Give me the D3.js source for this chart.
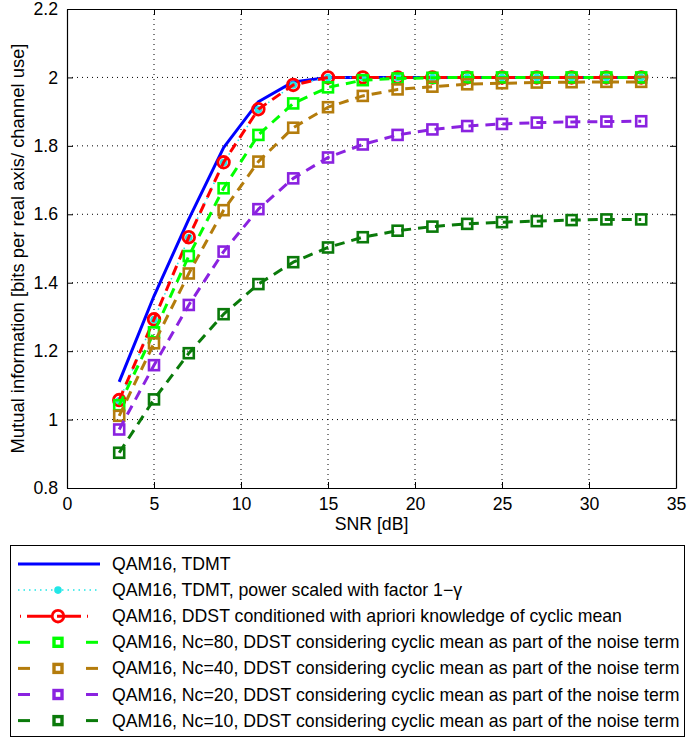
<!DOCTYPE html>
<html><head><meta charset="utf-8">
<script src="https://cdn.jsdelivr.net/npm/d3@7"></script>
<style>body{margin:0;background:#fff}svg{display:block}text{font-family:"Liberation Sans",Arial,sans-serif}</style>
</head><body><svg id="c" width="689" height="740"></svg>
<script>
const snr = [3,5,7,9,11,13,15,17,19,21,23,25,27,29,31,33];
const tdmt   = [1.110,1.361,1.586,1.795,1.929,1.987,2.0,2.0,2.0,2.0,2.0,2.0,2.0,2.0,2.0,2.0];
const tdmtPs = [1.055,1.292,1.532,1.751,1.906,1.978,2.0,2.0,2.0,2.0,2.0,2.0,2.0,2.0,2.0,2.0];
const ddstK  = [1.057,1.293,1.533,1.752,1.907,1.978,2.0,2.0,2.0,2.0,2.0,2.0,2.0,2.0,2.0,2.0];
const nc80   = [1.042,1.255,1.478,1.676,1.832,1.924,1.971,1.992,1.997,1.999,2.0,2.0,2.0,2.0,2.0,2.0];
const nc40   = [1.011,1.223,1.427,1.612,1.754,1.853,1.913,1.946,1.965,1.973,1.980,1.983,1.985,1.986,1.987,1.987];
const nc20   = [0.971,1.159,1.335,1.491,1.615,1.705,1.766,1.804,1.832,1.848,1.858,1.864,1.868,1.870,1.871,1.872];
const nc10   = [0.903,1.059,1.194,1.308,1.396,1.460,1.503,1.533,1.552,1.564,1.572,1.577,1.580,1.583,1.585,1.585];
const xTicks = [0,5,10,15,20,25,30,35];
const yTicks = [0.8,1,1.2,1.4,1.6,1.8,2,2.2];
const legendLabels = [
 "QAM16, TDMT",
 "QAM16, TDMT, power scaled with factor 1\u2212\u03B3",
 "QAM16, DDST conditioned with apriori knowledge of cyclic mean",
 "QAM16, Nc=80, DDST considering cyclic mean as part of the noise term",
 "QAM16, Nc=40, DDST considering cyclic mean as part of the noise term",
 "QAM16, Nc=20, DDST considering cyclic mean as part of the noise term",
 "QAM16, Nc=10, DDST considering cyclic mean as part of the noise term"];

const series = [
 {y:tdmt,   color:"#0000ff", w:3,   dash:null,   marker:"none"},
 {y:tdmtPs, color:"#22e6e6", w:1.5, dash:"1.5,4", marker:"dot"},
 {y:ddstK,  color:"#ff0000", w:3,   dash:"10,7", marker:"circle"},
 {y:nc80,   color:"#00ff00", w:3,   dash:"10,7", marker:"square"},
 {y:nc40,   color:"#b47c0c", w:3,   dash:"10,7", marker:"square"},
 {y:nc20,   color:"#8a22e0", w:3,   dash:"10,7", marker:"square"},
 {y:nc10,   color:"#0a7a0a", w:3,   dash:"10,7", marker:"square"}];

const svg = d3.select("#c");
const L=67,R=676,T=9,B=488;
const x = d3.scaleLinear().domain([0,35]).range([L,R]);
const y = d3.scaleLinear().domain([0.8,2.2]).range([B,T]);

// grid
const g = svg.append("g");
g.selectAll(".gx").data(xTicks.slice(1,-1)).join("line")
 .attr("x1",d=>x(d)).attr("x2",d=>x(d)).attr("y1",T).attr("y2",B)
 .attr("stroke","#000").attr("stroke-width",1).attr("stroke-dasharray","1,4");
g.selectAll(".gy").data(yTicks.slice(1,-1)).join("line")
 .attr("y1",d=>y(d)).attr("y2",d=>y(d)).attr("x1",L).attr("x2",R)
 .attr("stroke","#000").attr("stroke-width",1).attr("stroke-dasharray","1,4");

// axes
const fs = 17.7;
const ax = svg.append("g").attr("transform",`translate(0,${B})`)
 .call(d3.axisBottom(x).tickValues(xTicks).tickSizeInner(-6).tickSizeOuter(0).tickPadding(9).tickFormat(d3.format("d")));
const axT = svg.append("g").attr("transform",`translate(0,${T})`)
 .call(d3.axisTop(x).tickValues(xTicks).tickSizeInner(-6).tickSizeOuter(0).tickFormat(""));
const ay = svg.append("g").attr("transform",`translate(${L},0)`)
 .call(d3.axisLeft(y).tickValues(yTicks).tickSizeInner(-6).tickSizeOuter(0).tickPadding(9).tickFormat(d=>String(+d.toFixed(1))));
const ayR = svg.append("g").attr("transform",`translate(${R},0)`)
 .call(d3.axisRight(y).tickValues(yTicks).tickSizeInner(-6).tickSizeOuter(0).tickFormat(""));
[ax,axT,ay,ayR].forEach(a=>{a.select(".domain").attr("stroke","#000").attr("stroke-width",1.2);
 a.selectAll("line").attr("stroke","#000");
 a.selectAll("text").attr("font-size",fs).attr("fill","#000").attr("font-family","Liberation Sans, Arial, sans-serif");});

svg.append("text").attr("x",(L+R)/2).attr("y",530).attr("text-anchor","middle").attr("font-size",fs).text("SNR [dB]");
svg.append("text").attr("transform",`translate(24,${(T+B)/2}) rotate(-90)`).attr("text-anchor","middle")
 .attr("font-size",18.4).text("Mutual information [bits per real axis/ channel use]");

// series
const line = d3.line().x((d,i)=>x(snr[i])).y(d=>y(d));
const pg = svg.append("g");
function drawMarker(sel, s, cx, cy, leg){
 if(s.marker==="dot") sel.append("circle").attr("cx",cx).attr("cy",cy).attr("r",3.8).attr("fill",s.color);
 else if(s.marker==="circle") sel.append("circle").attr("cx",cx).attr("cy",cy).attr("r",5.8).attr("fill","none").attr("stroke",s.color).attr("stroke-width",2.8);
 else if(s.marker==="square"){
  const h = leg?4:5;
  sel.append("rect").attr("x",cx-h).attr("y",cy-h).attr("width",2*h).attr("height",2*h).attr("fill","none").attr("stroke",s.color).attr("stroke-width",leg?3.4:2.6);
 }
}
series.forEach(s=>{
 const gg = pg.append("g");
 gg.append("path").attr("d",line(s.y)).attr("fill","none").attr("stroke",s.color).attr("stroke-width",s.w)
  .attr("stroke-dasharray",s.dash).attr("stroke-linejoin","round");
 if(s.marker!=="none") s.y.forEach((v,i)=>drawMarker(gg,s,x(snr[i]),y(v),false));
});

// legend
const lg = svg.append("g");
lg.append("rect").attr("x",10.5).attr("y",545.5).attr("width",674).attr("height",191).attr("fill","#fff").attr("stroke","#000").attr("stroke-width",1);
series.forEach((s,i)=>{
 const yy = 564 + i*26.1;
 const row = lg.append("g");
 if(s.marker==="none"){
  row.append("line").attr("x1",18).attr("x2",100).attr("y1",yy).attr("y2",yy).attr("stroke",s.color).attr("stroke-width",3);
 } else if(s.marker==="dot"){
  row.append("line").attr("x1",18).attr("x2",100).attr("y1",yy).attr("y2",yy).attr("stroke",s.color).attr("stroke-width",1.5).attr("stroke-dasharray","1.5,4");
 } else if(s.marker==="circle"){
  row.append("line").attr("x1",20).attr("x2",100).attr("y1",yy).attr("y2",yy).attr("stroke",s.color).attr("stroke-width",3).attr("stroke-dasharray","1,6,24,6,24,6,1,20");
 } else {
  row.append("line").attr("x1",18).attr("x2",30).attr("y1",yy).attr("y2",yy).attr("stroke",s.color).attr("stroke-width",3);
  row.append("line").attr("x1",86).attr("x2",98).attr("y1",yy).attr("y2",yy).attr("stroke",s.color).attr("stroke-width",3);
 }
 if(s.marker!=="none") drawMarker(row,s,58,yy,true);
 row.append("text").attr("x",112).attr("y",yy+6).attr("font-size",fs).text(legendLabels[i]);
});
</script></body></html>
